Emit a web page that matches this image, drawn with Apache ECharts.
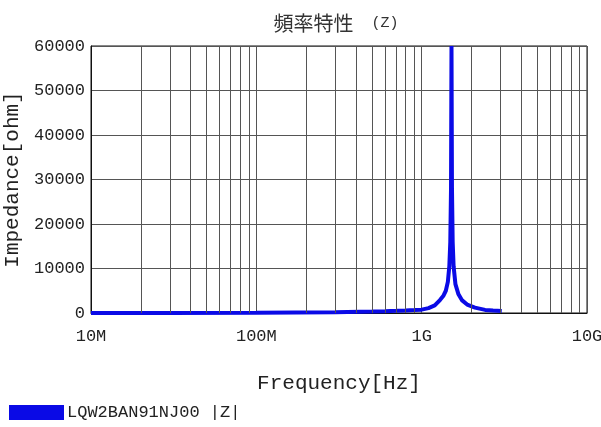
<!DOCTYPE html>
<html><head><meta charset="utf-8">
<script src="https://cdn.jsdelivr.net/npm/echarts@6/dist/echarts.min.js"></script>
<style>html,body{margin:0;padding:0;background:#fff}#c{width:601px;height:427px}</style>
</head><body><div id="c"></div>
<script>
// frequency [Hz]
const freqs = [1e7, 3e7, 1e8, 3e8, 5e8, 6e8, 7e8, 8e8, 9e8, 1.0e9, 1.1e9, 1.2e9, 1.29e9, 1.35e9, 1.4e9, 1.44e9, 1.47e9, 1.49e9, 1.505e9, 1.515e9, 1.525e9, 1.54e9, 1.56e9, 1.6e9, 1.67e9, 1.75e9, 1.9e9, 2.1e9, 2.42e9, 2.7e9, 3.05e9];
// |Z| [ohm]
const impedance = [6, 17, 57, 180, 330, 400, 480, 560, 650, 750, 1100, 1700, 2900, 3800, 5000, 7000, 10500, 16000, 28000, 60000, 28000, 16000, 10500, 6500, 4200, 2900, 1800, 1200, 700, 550, 450];
const xTickLabels = {1e7: '10M', 1e8: '100M', 1e9: '1G', 1e10: '10G'};
const seriesName = 'LQW2BAN91NJ00 |Z|';
const titleMain = '頻率特性';
const titleSub = '(Z)';

const minorLines = [];
for (let d = 1e7; d < 1e10; d *= 10) {
  for (let k = 2; k <= 9; k++) minorLines.push({xAxis: k * d});
}
const mono = '"Liberation Mono","DejaVu Sans Mono",monospace';
const chart = echarts.init(document.getElementById('c'));
chart.setOption({
  animation: false,
  title: {text: '{a|' + titleMain + '}{b|  ' + titleSub + '}', left: 331, top: 8, textAlign: 'center',
    textStyle: {rich: {
      a: {fontFamily: '"Noto Sans CJK JP",sans-serif', fontSize: 20, fontWeight: 'normal', color: '#333'},
      b: {fontFamily: mono, fontSize: 15, fontWeight: 'normal', color: '#333'}}}},
  grid: {left: 91, right: 14, top: 46, bottom: 114, show: true, borderColor: '#111', borderWidth: 1,
    backgroundColor: '#fff', containLabel: false, outerBoundsMode: 'none'},
  legend: {left: 4, top: 399, itemWidth: 55, itemHeight: 15, icon: 'rect', itemGap: 4,
    data: [seriesName],
    textStyle: {fontFamily: mono, fontSize: 17, color: '#222', padding: [0, 0, 0, -2]}},
  xAxis: {type: 'log', logBase: 10, min: 1e7, max: 1e10,
    name: 'Frequency[Hz]', nameLocation: 'middle', nameGap: 60,
    nameTextStyle: {fontFamily: mono, fontSize: 21, color: '#222'},
    axisLine: {lineStyle: {color: '#111'}}, axisTick: {show: false},
    axisLabel: {fontFamily: mono, fontSize: 17, color: '#222', margin: 15,
      formatter: v => xTickLabels[Math.round(v)] || ''},
    splitLine: {show: true, lineStyle: {color: '#555', width: 1}}},
  yAxis: {type: 'value', min: 0, max: 60000, interval: 10000,
    name: 'Impedance[ohm]', nameLocation: 'middle', nameGap: 64,
    nameTextStyle: {fontFamily: mono, fontSize: 21, color: '#222'},
    axisLine: {show: true, lineStyle: {color: '#111'}}, axisTick: {show: false},
    axisLabel: {fontFamily: mono, fontSize: 17, color: '#222', margin: 6, formatter: v => String(v)},
    splitLine: {show: true, lineStyle: {color: '#555', width: 1}}},
  series: [
    {type: 'line', name: 'grid', data: [], z: 1, silent: true,
      markLine: {silent: true, symbol: ['none', 'none'], label: {show: false},
        lineStyle: {color: '#555', width: 1, type: 'solid'}, animation: false,
        emphasis: {disabled: true}, data: minorLines}},
    {type: 'line', name: seriesName, z: 3,
      data: freqs.map((f, i) => [f, impedance[i]]),
      showSymbol: false, symbol: 'none',
      itemStyle: {color: '#0a0ae6'},
      lineStyle: {color: '#0a0ae6', width: 4}}
  ]
});
</script></body></html>
